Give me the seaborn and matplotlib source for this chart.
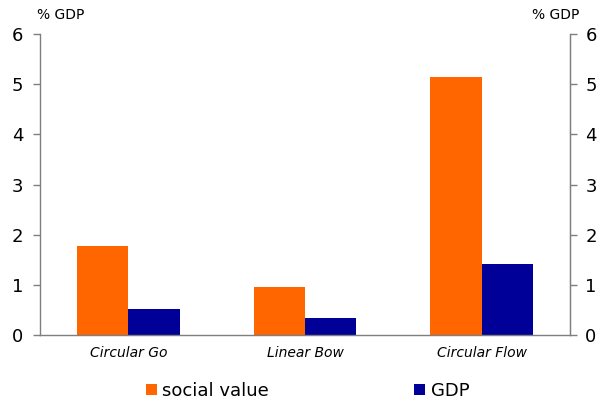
import matplotlib
matplotlib.use("Agg")
import matplotlib.pyplot as plt
import seaborn as sns
import pandas as pd

categories = ["Circular Go", "Linear Bow", "Circular Flow"]
social_value = [1.77, 0.95, 5.14]
gdp = [0.52, 0.33, 1.42]
series_names = ["social value", "GDP"]
colors = ["#FF6600", "#000099"]
yticks = [0, 1, 2, 3, 4, 5, 6]

df = pd.DataFrame({
    "category": categories * 2,
    "value": social_value + gdp,
    "series": [series_names[0]] * 3 + [series_names[1]] * 3,
})

sns.set_style("white")
plt.rcParams["font.family"] = ["DejaVu Sans"]
plt.rcParams["text.color"] = "black"

fig = plt.figure(figsize=(6.01, 4.01), dpi=100)
W, H = 601, 401
ax = fig.add_axes([40 / W, (H - 335) / H, 530 / W, 301 / H])

sns.barplot(data=df, x="category", y="value", hue="series",
            palette=colors, width=0.58, gap=0, saturation=1,
            edgecolor="none", linewidth=0, ax=ax, legend=True)

spine_c = "#7f7f7f"
ax.set_xlim(-0.5, 2.5)
ax.set_ylim(0, 6)
ax.set_yticks(yticks)
ax.set_yticklabels([str(t) for t in yticks], fontsize=13, color="black")
ax.set_xlabel("")
ax.set_ylabel("")
ax.set_xticks([0.5, 1.5])
ax.set_xticklabels([])
ax.tick_params(axis="x", length=4, color=spine_c, width=1, direction="out")
ax.tick_params(axis="y", length=5, color=spine_c, width=1, direction="out", pad=7)
for i, c in enumerate(categories):
    ax.text(i, -0.22, c, ha="center", va="top", fontsize=10,
            style="italic", transform=ax.transData, color="black")

ax.spines["top"].set_visible(False)
for s in ["left", "right", "bottom"]:
    ax.spines[s].set_color(spine_c)
    ax.spines[s].set_linewidth(1)

ax2 = ax.twinx()
ax2.set_ylim(0, 6)
ax2.set_yticks(yticks)
ax2.set_yticklabels([str(t) for t in yticks], fontsize=13, color="black")
ax2.tick_params(axis="y", length=5, color=spine_c, width=1, direction="out", pad=6)
for s in ["top", "left", "bottom"]:
    ax2.spines[s].set_visible(False)
ax2.spines["right"].set_color(spine_c)

fig.text(61 / W, 1 - 15 / H, "% GDP", ha="center", va="center", fontsize=10)
fig.text(556 / W, 1 - 15 / H, "% GDP", ha="center", va="center", fontsize=10)

handles, labels = ax.get_legend_handles_labels()
ax.get_legend().remove()
fig.legend(handles, labels, loc="center left", bbox_to_anchor=(137 / W, 1 - 391 / H),
           ncol=2, frameon=False, fontsize=13, handlelength=0.6, handleheight=0.6,
           handletextpad=0.3, columnspacing=8.05, borderpad=0, labelcolor="black")

fig.savefig("out.png", dpi=100)
